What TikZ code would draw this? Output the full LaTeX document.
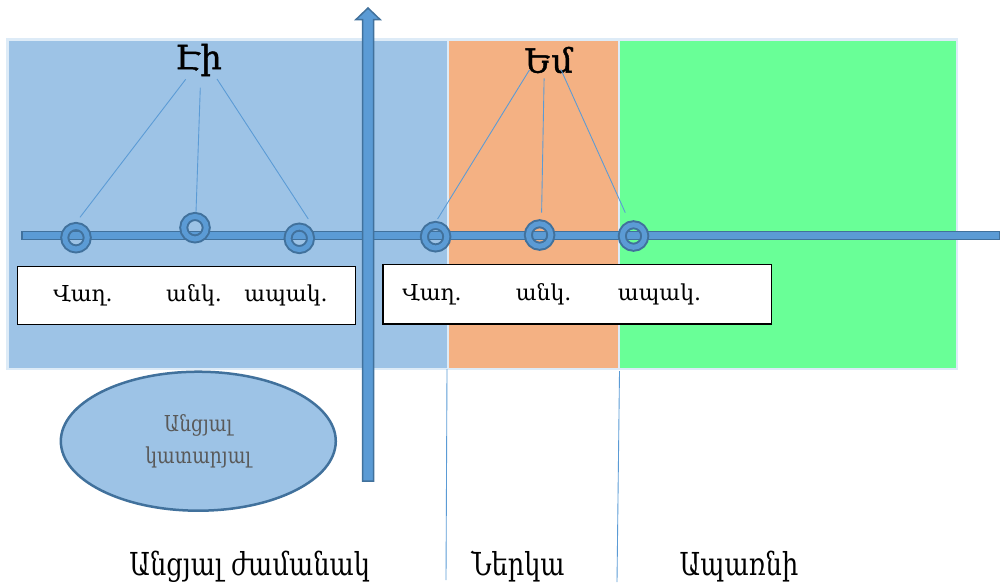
\documentclass[tikz,border=0pt]{standalone}
\usepackage{fontspec}
\usepackage{graphicx}
\setmainfont{DejaVu Serif}
\newfontfamily\pronfont[FakeBold=1.2]{DejaVu Serif}
\usetikzlibrary{shapes.geometric,calc}
\definecolor{regblue}{HTML}{9DC3E6}
\definecolor{regorange}{HTML}{F4B183}
\definecolor{reggreen}{HTML}{69FF97}
\definecolor{regedge}{HTML}{DDEBF7}
\definecolor{axfill}{HTML}{5B9BD5}
\definecolor{axedge}{HTML}{41719C}
\definecolor{ovaltext}{HTML}{595959}
\newcommand{\narrowtext}[2]{\scalebox{#1}[1]{#2}}
\begin{document}
\begin{tikzpicture}[x=0.02cm,y=-0.02cm,
  region/.style={draw=regedge,line width=0.05cm},
  axisshape/.style={fill=axfill,draw=axedge,line width=0.03cm},
  ring/.style={circle,draw=axedge,double=axfill,double distance=0.1cm,line width=0.04cm,minimum size=0.45cm,inner sep=0pt},
  link/.style={draw=axfill,line width=0.5pt},
  divider/.style={draw=axfill,line width=0.5pt},
  wordbox/.style={draw=black,fill=white,line width=0.7pt,anchor=north west,inner sep=0pt},
  word/.style={font=\fontsize{12.5}{15}\selectfont,anchor=base},
  pron/.style={font=\pronfont\fontsize{19}{22}\selectfont},
  tense/.style={font=\fontsize{18}{21}\selectfont,anchor=base},
]
\useasboundingbox (0,0) rectangle (1000,585);
% regions
\draw[region,fill=regblue] (7.3,39.5) rectangle (447.8,369);
\draw[region,fill=regorange] (447.8,39.5) rectangle (619,369);
\draw[region,fill=reggreen] (619,39.5) rectangle (957.2,369);
% dividers
\coordinate (d1t) at (447,369);
\coordinate (d1b) at (446,580);
\coordinate (d2t) at (619.5,371);
\coordinate (d2b) at (617,582);
\draw[divider] (d1t) -- (d1b);
\draw[divider] (d2t) -- (d2b);
% word boxes
\node[wordbox,minimum width=6.77cm,minimum height=1.17cm] (box1) at (16.7,265.7) {};
\node[wordbox,minimum width=7.77cm,minimum height=1.19cm] (box2) at (382.4,264) {};
\node[word] (w11) at (83,301.5) {Վաղ.};
\node[word] (w12) at (194,301.5) {անկ.};
\node[word] (w13) at (286,301.5) {ապակ.};
\node[word] (w21) at (432,300) {Վաղ.};
\node[word] (w22) at (543.6,300) {անկ.};
\node[word] (w23) at (659.5,300) {ապակ.};
% time line
\draw[axisshape] (22,231.5) rectangle (1000,239.5);
\node[ring] (r1) at (76,237.7) {};
\node[ring] (r2) at (195,227.7) {};
\node[ring] (r3) at (299.3,238.3) {};
\node[ring] (r4) at (435.6,236.7) {};
\node[ring] (r5) at (539.6,235) {};
\node[ring] (r6) at (633.5,236) {};
% labels
\node[pron] (ei) at (198.5,60) {Էի};
\node[pron] (em) at (548.7,60) {Եմ};
\draw[link] ([shift={(-12.8,19.3)}]ei.center) -- ([shift={(4,-20.4)}]r1.center);
\draw[link] ([shift={(1.8,27.7)}]ei.center) -- ([shift={(1,-15.4)}]r2.center);
\draw[link] ([shift={(18.5,19)}]ei.center) -- ([shift={(9,-19.3)}]r3.center);
\draw[link] ([shift={(-19.3,10)}]em.center) -- ([shift={(2,-17.7)}]r4.center);
\draw[link] ([shift={(-4.6,18.3)}]em.center) -- ([shift={(2,-22.3)}]r5.center);
\draw[link] ([shift={(12.1,9.3)}]em.center) -- ([shift={(-8.2,-23.3)}]r6.center);
% vertical arrow
\draw[axisshape] (362.5,481) -- (362.5,19.5) -- (356,19.5) -- (368,8) -- (380,19.5) -- (373.5,19.5) -- (373.5,481) -- cycle;
% oval
\node[ellipse,draw=axedge,fill=regblue,line width=0.05cm,minimum width=5.5cm,minimum height=2.78cm,inner sep=0pt,
  align=center,text=ovaltext,font=\fontsize{12.5}{18}\selectfont] (oval) at (198.3,441.2)
  {\narrowtext{0.85}{Անցյալ}\\\narrowtext{0.85}{կատարյալ}};
% tense names
\node[tense] (past) at (249.7,575) {\narrowtext{0.81}{Անցյալ ժամանակ}};
\node[tense] (pres) at (518,575) {\narrowtext{0.81}{Ներկա}};
\node[tense] (fut) at (739,575) {\narrowtext{0.81}{Ապառնի}};
\end{tikzpicture}
\end{document}
